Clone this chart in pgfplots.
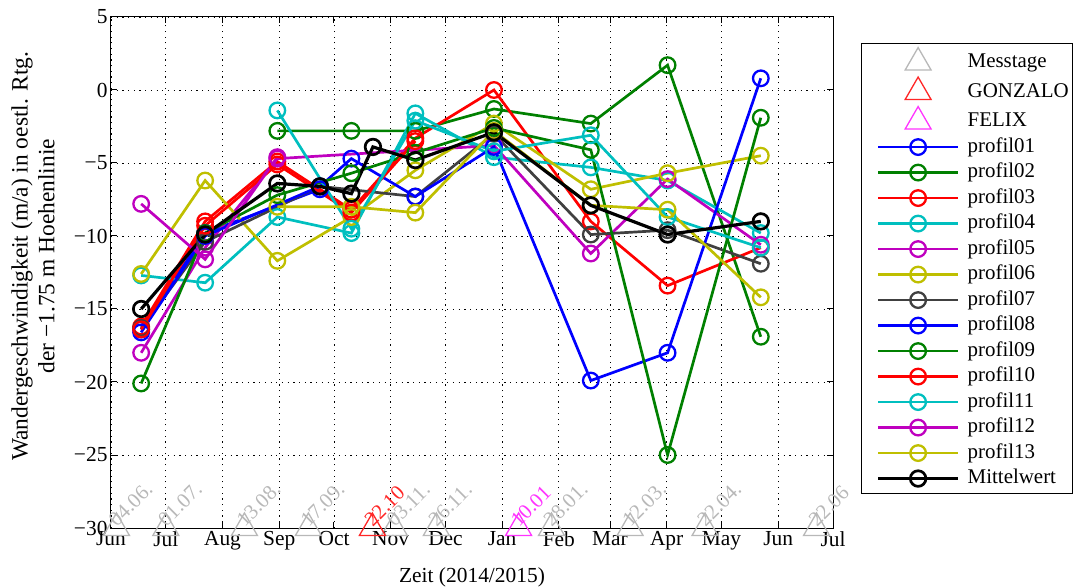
\documentclass[border=0pt]{standalone}
\usepackage{fontspec}
\setmainfont{Liberation Serif}
\usepackage{pgfplots}
\pgfplotsset{compat=1.18}
\definecolor{mblue}{rgb}{0,0,1}
\definecolor{mgreen}{rgb}{0,0.5,0}
\definecolor{mred}{rgb}{1,0,0}
\definecolor{mcyan}{rgb}{0,0.75,0.75}
\definecolor{mmag}{rgb}{0.75,0,0.75}
\definecolor{myel}{rgb}{0.75,0.75,0}
\definecolor{mgray}{rgb}{0.25,0.25,0.25}
\definecolor{tgray}{rgb}{0.72,0.72,0.72}
\definecolor{tred}{rgb}{1,0.15,0.15}
\definecolor{tmag}{rgb}{1,0.2,1}
\pgfplotsset{
  myleg/.style={legend image code/.code={\path (-11bp,0bp) (80bp,0bp);
     \draw[mark repeat=2,mark phase=2,##1] plot coordinates {(0bp,0bp) (40bp,0bp) (80bp,0bp)};}},
  prof/.style={line width=2.7bp, mark=o, mark size=7.8bp, mark options={solid, line width=2.3bp}, myleg},
  tri/.style={only marks, mark=triangle, mark size=15bp, mark options={line width=1.3bp}, myleg,
     nodes near coords, point meta=explicit symbolic,
     every node near coord/.style={rotate=45, anchor=base west, inner sep=0pt, xshift=0bp,
        font=\fontsize{21}{25}\selectfont, text=#1}},
}
\begin{document}
\begin{tikzpicture}
\begin{axis}[
  width=722bp, height=511bp, scale only axis,
  xmin=0, xmax=395, ymin=-30, ymax=5,
  xtick={0,30,61,92,122,153,183,214,245,273,304,334,365,395},
  xticklabels={Jun,Jul,Aug,Sep,Oct,Nov,Dec,Jan,Feb,Mar,Apr,May,Jun,Jul},
  ytick={-30,-25,-20,-15,-10,-5,0,5},
  yticklabels={−30,−25,−20,−15,−10,−5,0,5},
  grid=major,
  major grid style={black, line width=0.8bp, dash pattern=on 1.2bp off 4.5bp},
  axis line style={line width=1bp},
  major tick length=6bp,
  tick style={line width=1bp, black},
  tick label style={font=\fontsize{21.5}{25}\selectfont, color=black},
  label style={font=\fontsize{21.5}{25}\selectfont},
  xlabel={Zeit (2014/2015)},
  xlabel style={yshift=-11bp},
  ylabel={Wandergeschwindigkeit (m/a) in oestl. Rtg.\\der −1.75 m Hoehenlinie},
  ylabel style={align=center, font=\fontsize{23.5}{27}\selectfont,
     at={(axis description cs:-0.108,0.532)}, anchor=center},
  clip=false,
  legend cell align=left,
  legend style={at={(1.0388,0.949)}, anchor=north west, draw=black, line width=1bp,
    inner sep=4bp, row sep=3.5bp, column sep=8bp, font=\fontsize{21}{25}\selectfont,
    nodes={inner sep=0pt, text height=16bp, text depth=6bp}},
]
% Messtage
\addplot[tri=tgray, color=tgray] table[meta=lab] {
x y lab
3 -30 04.06.
30 -30 01.07.
73 -30 13.08.
108 -30 17.09.
155 -30 03.11.
178 -30 26.11.
241 -30 28.01.
284 -30 12.03.
325 -30 22.04.
386 -30 22.06
};
\addlegendentry{Messtage}
\addplot[tri=tred, color=tred] table[meta=lab] {
x y lab
143 -30 22.10
};
\addlegendentry{GONZALO}
\addplot[tri=tmag, color=tmag] table[meta=lab] {
x y lab
223 -30 10.01
};
\addlegendentry{FELIX}
% profil01
\addplot[prof, color=mblue] coordinates {(16.5,-16.4) (51.5,-9.8) (114.3,-6.8)};
\addlegendentry{profil01}
% profil02
\addplot[prof, color=mgreen] coordinates {(91,-2.8) (131.5,-2.8) (166.5,-2.8) (209.5,-1.3) (262.5,-2.3) (304.5,1.7) (355.5,-16.9)};
\addlegendentry{profil02}
% profil03
\addplot[prof, color=mred] coordinates {(16.5,-16.2) (51.5,-9.0) (91,-4.9) (131.5,-8.2) (166.5,-3.3) (209.5,0.0) (262.5,-9.0) (304.5,-13.4) (355.5,-10.8)};
\addlegendentry{profil03}
% profil04
\addplot[prof, color=mcyan] coordinates {(16.5,-12.7) (51.5,-13.2) (91,-8.7) (131.5,-9.8) (166.5,-1.6) (209.5,-4.6) (262.5,-5.3) (304.5,-6.2) (355.5,-9.8)};
\addlegendentry{profil04}
% profil05
\addplot[prof, color=mmag] coordinates {(16.5,-18.0) (51.5,-10.8) (91,-4.7) (209.5,-3.8) (262.5,-11.2) (304.5,-6.1) (355.5,-10.6)};
\addlegendentry{profil05}
% profil06
\addplot[prof, color=myel] coordinates {(16.5,-12.6) (51.5,-6.2) (91,-11.7) (131.5,-8.7) (166.5,-5.5) (209.5,-2.3) (262.5,-6.8) (304.5,-5.7) (355.5,-4.5)};
\addlegendentry{profil06}
% profil07
\addplot[prof, color=mgray] coordinates {(16.5,-16.3) (51.5,-10.4) (114.3,-6.6) (166.5,-7.3) (209.5,-3.0) (262.5,-9.9) (304.5,-9.6) (355.5,-11.9)};
\addlegendentry{profil07}
% profil08
\addplot[prof, color=mblue] coordinates {(16.5,-16.6) (51.5,-10.0) (114.3,-6.6) (131.5,-4.7) (166.5,-7.3) (209.5,-3.9) (262.5,-19.9) (304.5,-18.0) (355.5,0.8)};
\addlegendentry{profil08}
% profil09
\addplot[prof, color=mgreen] coordinates {(16.5,-20.1) (51.5,-9.8) (91,-7.2) (131.5,-5.7) (166.5,-4.3) (209.5,-2.6) (262.5,-4.1) (304.5,-25.0) (355.5,-1.9)};
\addlegendentry{profil09}
% profil10
\addplot[prof, color=mred] coordinates {(16.5,-16.4) (51.5,-9.3) (91,-5.1) (131.5,-8.4) (166.5,-3.5)};
\addlegendentry{profil10}
% profil11
\addplot[prof, color=mcyan] coordinates {(91,-1.4) (131.5,-9.5) (166.5,-2.1) (209.5,-4.2) (262.5,-3.1) (304.5,-8.7) (355.5,-10.8)};
\addlegendentry{profil11}
% profil12
\addplot[prof, color=mmag] coordinates {(16.5,-7.8) (51.5,-11.6) (91,-4.6)};
\addlegendentry{profil12}
% profil13
\addplot[prof, color=myel] coordinates {(91,-8.0) (131.5,-8.0) (166.5,-8.4) (209.5,-2.8) (262.5,-7.9) (304.5,-8.2) (355.5,-14.2)};
\addlegendentry{profil13}
% Mittelwert
\addplot[prof, color=black, line width=3.2bp, mark options={solid, line width=2.7bp}] coordinates {(16.5,-15.0) (51.5,-9.9) (91,-6.4) (114.3,-6.6) (131.5,-7.1) (143.3,-3.9) (166.5,-4.8) (209.5,-2.9) (262.5,-7.9) (304.5,-9.9) (355.5,-9.0)};
\addlegendentry{Mittelwert}
\end{axis}
\pgfresetboundingbox
\useasboundingbox (-111bp,-59bp) rectangle (965bp,528bp);
\end{tikzpicture}
\end{document}
